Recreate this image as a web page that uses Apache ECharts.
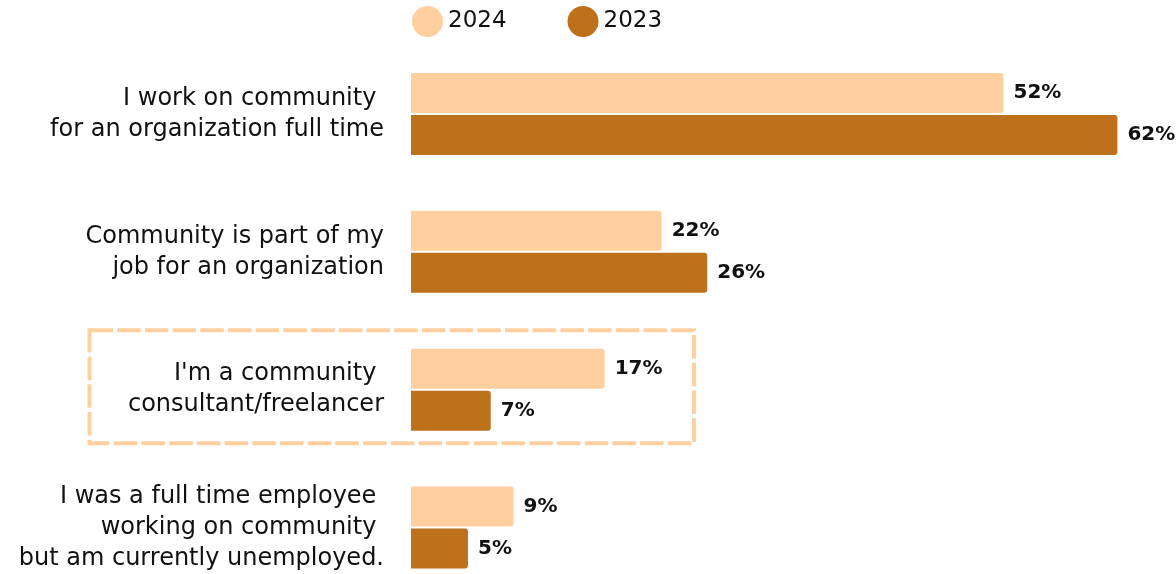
<!DOCTYPE html>
<html>
<head>
<meta charset="utf-8">
<script src="https://cdn.jsdelivr.net/npm/echarts@6/dist/echarts.min.js"></script>
<style>
  html, body { margin: 0; padding: 0; background: #ffffff; }
  #chart { width: 1176px; height: 574px; }
</style>
</head>
<body>
<div id="chart"></div>
<script>
// Employment situation categories (top to bottom)
const categories = [
  'I work on community \nfor an organization full time',
  'Community is part of my\njob for an organization',
  "I'm a community \nconsultant/freelancer",
  'I was a full time employee \nworking on community \nbut am currently unemployed.'
];
const values2024 = [52, 22, 17, 9];
const values2023 = [62, 26, 7, 5];
const seriesNames = ['2024', '2023'];
const highlightedIndex = 2;

const FONT = '"DejaVu Sans", "Noto Sans", sans-serif';
const COLOR_2024 = '#FFCFA0';
const COLOR_2023 = '#BC711A';

const chart = echarts.init(document.getElementById('chart'), null, { renderer: 'canvas' });

const valueLabel = {
  show: true,
  position: 'right',
  distance: 10,
  formatter: '{c}%',
  color: '#111111',
  fontFamily: FONT,
  fontWeight: 'bold',
  fontSize: 20
};

const option = {
  animation: false,
  backgroundColor: '#ffffff',
  textStyle: { fontFamily: FONT },
  legend: {
    top: 1,
    left: 407,
    icon: 'circle',
    itemWidth: 31,
    itemHeight: 31,
    itemGap: 61,
    data: seriesNames,
    textStyle: { fontFamily: FONT, fontSize: 23, color: '#111111' }
  },
  // Categories sit on the ticks (boundaryGap false) so the first and last
  // rows can reach the top and bottom edges of the canvas.
  grid: { left: 411, right: 13, top: 114, bottom: 46, containLabel: false },
  xAxis: {
    type: 'value',
    min: 0,
    max: 66,
    show: false
  },
  yAxis: {
    type: 'category',
    inverse: true,
    boundaryGap: false,
    data: categories,
    axisLine: { show: false },
    axisTick: { show: false },
    splitLine: { show: false },
    axisLabel: {
      margin: 27,
      align: 'right',
      color: '#111111',
      fontFamily: FONT,
      fontSize: 24,
      lineHeight: 31
    }
  },
  series: [
    {
      name: seriesNames[0],
      type: 'bar',
      data: values2024,
      clip: false,
      barWidth: 40,
      barGap: '5%',
      itemStyle: { color: COLOR_2024, borderRadius: [0, 3, 3, 0] },
      label: valueLabel
    },
    {
      name: seriesNames[1],
      type: 'bar',
      data: values2023,
      clip: false,
      barWidth: 40,
      itemStyle: { color: COLOR_2023, borderRadius: [0, 3, 3, 0] },
      label: valueLabel
    }
  ]
};

chart.setOption(option);

// Dashed frame around the highlighted category row
const cy = chart.convertToPixel({ yAxisIndex: 0 }, highlightedIndex);
chart.setOption({
  graphic: [{
    type: 'rect',
    silent: true,
    shape: { x: 89.5, y: cy - 59.5, width: 604.5, height: 113 },
    style: {
      fill: 'none',
      stroke: COLOR_2024,
      lineWidth: 4,
      lineDash: [23.5, 4.2]
    }
  }]
});
</script>
</body>
</html>
